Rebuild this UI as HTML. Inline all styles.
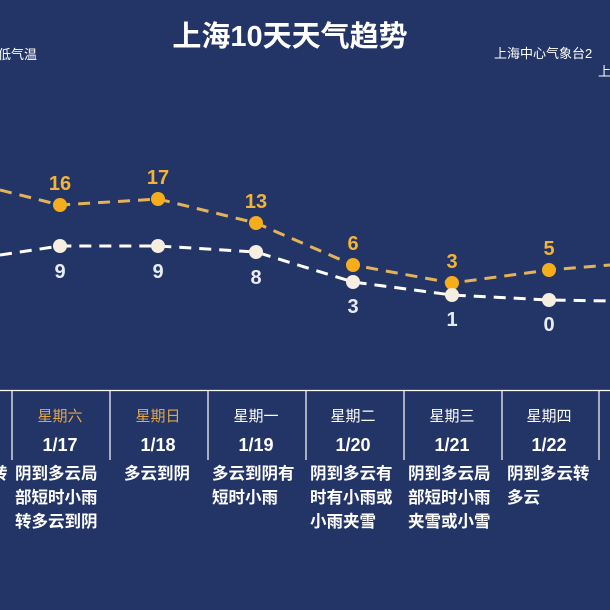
<!DOCTYPE html>
<html><head><meta charset="utf-8"><style>
html,body{margin:0;padding:0;background:#233466;}
svg{display:block;}
text{font-family:"Liberation Sans","Noto Sans CJK SC",sans-serif;}
</style></head><body>
<svg width="610" height="610" viewBox="0 0 610 610" xmlns="http://www.w3.org/2000/svg">
<rect width="610" height="610" fill="#233466"/>
<text x="290" y="46" fill="#fff" font-size="29" font-weight="bold" text-anchor="middle">上海10天天气趋势</text>
<text x="-2" y="59" fill="#fff" font-size="13">低气温</text>
<text x="494" y="58" fill="#fff" font-size="13">上海中心气象台2</text>
<text x="598" y="76" fill="#fff" font-size="13">上</text>
<polyline points="0,190 60,205 158,199 256,223 353,265 452,283 549,270 610,265" fill="none" stroke="#e3b35a" stroke-width="3" stroke-dasharray="12,8"/>
<polyline points="0,255 60,246 158,246 256,252 353,282 452,295 549,300 610,301" fill="none" stroke="#fff" stroke-width="3" stroke-dasharray="12,8"/>
<g fill="#f5ad1c">
<circle cx="60" cy="205" r="7"/><circle cx="158" cy="199" r="7"/><circle cx="256" cy="223" r="7"/><circle cx="353" cy="265" r="7"/><circle cx="452" cy="283" r="7"/><circle cx="549" cy="270" r="7"/>
</g>
<g fill="#f6eee0">
<circle cx="60" cy="246" r="7"/><circle cx="158" cy="246" r="7"/><circle cx="256" cy="252" r="7"/><circle cx="353" cy="282" r="7"/><circle cx="452" cy="295" r="7"/><circle cx="549" cy="300" r="7"/>
</g>
<g fill="#f2b437" font-size="20" font-weight="bold" text-anchor="middle">
<text x="60" y="190">16</text><text x="158" y="184">17</text><text x="256" y="208">13</text><text x="353" y="250">6</text><text x="452" y="268">3</text><text x="549" y="255">5</text>
</g>
<g fill="#e8ecf4" font-size="20" font-weight="bold" text-anchor="middle">
<text x="60" y="278">9</text><text x="158" y="278">9</text><text x="256" y="284">8</text><text x="353" y="313">3</text><text x="452" y="326">1</text><text x="549" y="331">0</text>
</g>
<line x1="0" y1="390.5" x2="610" y2="390.5" stroke="#fff" stroke-width="1.2"/>
<g stroke="#fff" stroke-width="1.2">
<line x1="12" y1="390" x2="12" y2="460"/><line x1="110" y1="390" x2="110" y2="460"/><line x1="208" y1="390" x2="208" y2="460"/><line x1="306" y1="390" x2="306" y2="460"/><line x1="404" y1="390" x2="404" y2="460"/><line x1="502" y1="390" x2="502" y2="460"/><line x1="599" y1="390" x2="599" y2="460"/>
</g>
<g font-size="15" text-anchor="middle">
<text x="60" y="421" fill="#e2a74a">星期六</text><text x="158" y="421" fill="#e2a74a">星期日</text>
<text x="256" y="421" fill="#fff">星期一</text><text x="353" y="421" fill="#fff">星期二</text><text x="452" y="421" fill="#fff">星期三</text><text x="549" y="421" fill="#fff">星期四</text>
</g>
<g font-size="18" font-weight="bold" fill="#fff" text-anchor="middle">
<text x="60" y="451">1/17</text><text x="158" y="451">1/18</text><text x="256" y="451">1/19</text><text x="353" y="451">1/20</text><text x="452" y="451">1/21</text><text x="549" y="451">1/22</text>
</g>
<g font-size="16.5" font-weight="bold" fill="#fff">
<text x="-9" y="479">转</text>
<text x="15" y="479">阴到多云局</text><text x="15" y="503">部短时小雨</text><text x="15" y="527">转多云到阴</text>
<text x="124" y="479">多云到阴</text>
<text x="212" y="479">多云到阴有</text><text x="212" y="503">短时小雨</text>
<text x="310" y="479">阴到多云有</text><text x="310" y="503">时有小雨或</text><text x="310" y="527">小雨夹雪</text>
<text x="408" y="479">阴到多云局</text><text x="408" y="503">部短时小雨</text><text x="408" y="527">夹雪或小雪</text>
<text x="507" y="479">阴到多云转</text><text x="507" y="503">多云</text>
</g>
</svg>
</body></html>
